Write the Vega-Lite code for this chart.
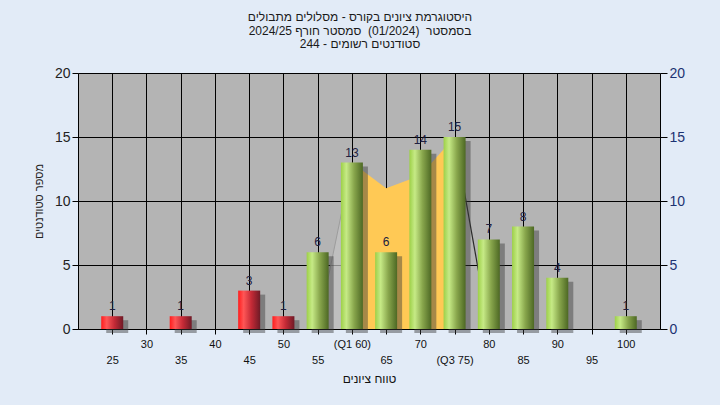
{
  "$schema": "https://vega.github.io/schema/vega-lite/v6.json",
  "width": 582,
  "height": 256,
  "autosize": {"type": "none"},
  "padding": {"left": 78, "top": 73, "right": 60, "bottom": 76},
  "background": "#e2ebf7",
  "config": {
    "view": {"fill": "#b4b4b4", "stroke": null},
    "font": "Liberation Sans, DejaVu Sans",
    "scale": {"continuousPadding": 0}
  },
  "title": {
    "text": ["היסטוגרמת ציונים בקורס - מסלולים מתבולים", "בסמסטר\u00a0\u00a0(01/2024)\u00a0\u00a0סמסטר חורף 2024/25", "סטודנטים רשומים - 244"],
    "fontSize": 12,
    "fontWeight": "normal",
    "lineHeight": 13.5,
    "offset": 15,
    "anchor": "middle",
    "frame": "group",
    "dx": -9,
    "color": "#1a1a1a",
    "font": "Liberation Sans, DejaVu Sans"
  },
  "datasets": {
    "bars": [
      {"grade": 25, "count": 1},
      {"grade": 35, "count": 1},
      {"grade": 45, "count": 3},
      {"grade": 50, "count": 1},
      {"grade": 55, "count": 6},
      {"grade": 60, "count": 13},
      {"grade": 65, "count": 6},
      {"grade": 70, "count": 14},
      {"grade": 75, "count": 15},
      {"grade": 80, "count": 7},
      {"grade": 85, "count": 8},
      {"grade": 90, "count": 4},
      {"grade": 100, "count": 1}
    ],
    "lower": [{"grade": 55, "count": 0}, {"grade": 60, "count": 13}],
    "iqr": [{"grade": 60, "count": 13}, {"grade": 65, "count": 11}, {"grade": 70, "count": 12}, {"grade": 75, "count": 15}],
    "upper": [{"grade": 75, "count": 15}, {"grade": 80, "count": 0}]
  },
  "encoding": {
    "x": {
      "field": "grade",
      "type": "quantitative",
      "scale": {"domain": [20, 105], "nice": false, "zero": false, "padding": 0},
      "axis": {
        "values": [25, 30, 35, 40, 45, 50, 55, 60, 65, 70, 75, 80, 85, 90, 95, 100],
        "labelExpr": "datum.value == 60 ? '(Q1 60)' : datum.value == 75 ? '(Q3 75)' : datum.label",
        "labelPadding": {"condition": {"test": "datum.value % 10 == 5", "value": 20}, "value": 4},
        "labelFontSize": 11,
        "labelColor": "#111111",
        "labelOverlap": false,
        "labelFlush": false,
        "tickSize": 5,
        "tickColor": "#000000",
        "domainColor": "#000000",
        "grid": true,
        "gridColor": "#000000",
        "gridOpacity": 1,
        "title": "טווח ציונים",
        "titleFontSize": 12,
        "titleFontWeight": "normal",
        "titleColor": "#111111",
        "titlePadding": 8
      }
    },
    "y": {
      "field": "count",
      "type": "quantitative",
      "scale": {"domain": [0, 20], "nice": false},
      "axis": null
    }
  },
  "layer": [
    {
      "data": {"name": "lower"},
      "mark": {"type": "area", "color": "#c3c3c3", "line": {"color": "#9c9c9c", "strokeWidth": 1}}
    },
    {
      "data": {"name": "iqr"},
      "mark": {"type": "area", "color": "#ffc955"}
    },
    {
      "data": {"name": "upper"},
      "mark": {"type": "line", "color": "#2a2a2a", "strokeWidth": 1.2}
    },
    {
      "data": {"name": "bars"},
      "mark": {"type": "bar", "width": 22, "color": "#3a3a3a", "opacity": 0.45, "xOffset": 5, "yOffset": 4}
    },
    {
      "data": {"name": "bars"},
      "transform": [{"filter": "datum.grade < 55"}],
      "mark": {
        "type": "bar",
        "width": 22,
        "color": {
          "gradient": "linear", "x1": 0, "y1": 0, "x2": 1, "y2": 0,
          "stops": [
            {"offset": 0, "color": "#ff1c1c"},
            {"offset": 0.25, "color": "#ff5656"},
            {"offset": 0.6, "color": "#c42a36"},
            {"offset": 1, "color": "#6e1a26"}
          ]
        }
      },
      "encoding": {
        "y": {
          "field": "count",
          "type": "quantitative",
          "scale": {"domain": [0, 20], "nice": false},
          "axis": {
            "orient": "left",
            "values": [0, 5, 10, 15, 20],
            "grid": true,
            "gridColor": "#000000",
            "gridOpacity": 1,
            "domainColor": "#000000",
            "tickColor": "#000000",
            "tickSize": 6,
            "labelFontSize": 14,
            "labelColor": "#222222",
            "labelPadding": 2,
            "title": "מספר סטודנטים",
            "titleFontSize": 11,
            "titleFontWeight": "normal",
            "titleColor": "#222222",
            "titlePadding": 10
          }
        }
      }
    },
    {
      "data": {"name": "bars"},
      "transform": [{"filter": "datum.grade >= 55"}],
      "mark": {
        "type": "bar",
        "width": 22,
        "color": {
          "gradient": "linear", "x1": 0, "y1": 0, "x2": 1, "y2": 0,
          "stops": [
            {"offset": 0, "color": "#9dd048"},
            {"offset": 0.25, "color": "#c6ea86"},
            {"offset": 0.6, "color": "#88a64c"},
            {"offset": 1, "color": "#4d6824"}
          ]
        }
      }
    },
    {
      "data": {"name": "bars"},
      "mark": {"type": "text", "baseline": "bottom", "dy": -3, "fontSize": 12, "color": "#202040"},
      "encoding": {
        "text": {"field": "count", "type": "quantitative"},
        "y": {
          "field": "count",
          "type": "quantitative",
          "scale": {"domain": [0, 20], "nice": false},
          "axis": {
            "orient": "right",
            "values": [0, 5, 10, 15, 20],
            "grid": false,
            "domainColor": "#000000",
            "tickColor": "#000000",
            "tickSize": 7,
            "labelFontSize": 14,
            "labelColor": "#1c3272",
            "labelPadding": 2,
            "title": null
          }
        }
      }
    },
    {
      "mark": {"type": "text", "fontSize": 12, "color": "#1a1a3a"},
      "encoding": {
        "x": {"datum": 62.5, "type": "quantitative"},
        "y": {"datum": 19, "type": "quantitative"},
        "text": {"value": "במשימה : Exam_B"}
      }
    }
  ],
  "resolve": {"axis": {"y": "independent"}}
}
